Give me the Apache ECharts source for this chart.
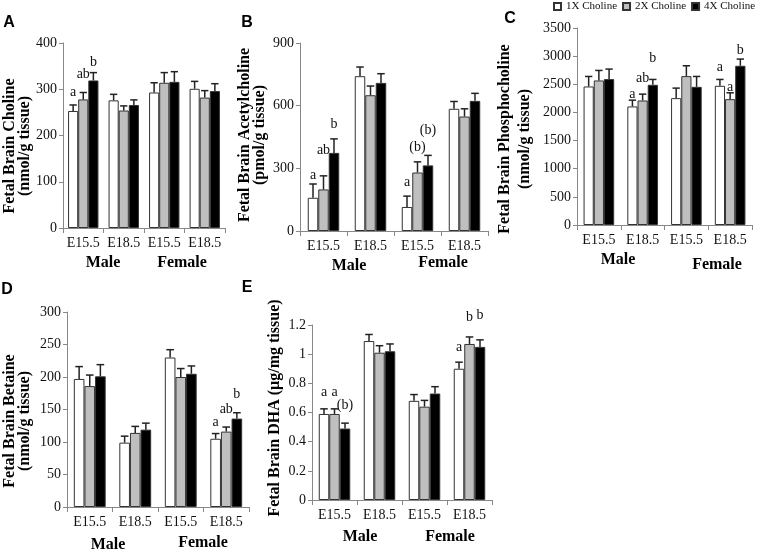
<!DOCTYPE html>
<html><head><meta charset="utf-8">
<script src="https://cdn.jsdelivr.net/npm/echarts@6/dist/echarts.min.js"></script>
<style>html,body{margin:0;padding:0;background:#fff}#c{width:757px;height:551px}</style>
</head><body><div id="c"></div>
<script>
// ---------- data ----------
const stages = ['E15.5', 'E18.5', 'E15.5', 'E18.5'];
const doseNames = ['1X Choline', '2X Choline', '4X Choline'];

// A: Fetal Brain Choline (nmol/g tissue)
const cholineMean1X = [253, 276, 293, 301];
const cholineMean2X = [278, 254, 314, 282];
const cholineMean4X = [319, 266, 316, 296];
const cholineSem1X = [13, 13, 21, 16];
const cholineSem2X = [15, 10, 22, 15];
const cholineSem4X = [17, 11, 22, 16];
const cholineLetters1X = ['a', '', '', ''];
const cholineLetters2X = ['ab', '', '', ''];
const cholineLetters4X = ['b', '', '', ''];
const cholineLetterAt1X = [294, null, null, null];
const cholineLetterAt2X = [332, null, null, null];
const cholineLetterAt4X = [359, null, null, null];

// B: Fetal Brain Acetylcholine (pmol/g tissue)
const achMean1X = [159, 741, 115, 585];
const achMean2X = [199, 650, 280, 548];
const achMean4X = [374, 709, 314, 623];
const achSem1X = [66, 44, 52, 35];
const achSem2X = [65, 44, 51, 37];
const achSem4X = [67, 44, 48, 36];
const achLetters1X = ['a', '', 'a', ''];
const achLetters2X = ['ab', '', '(b)', ''];
const achLetters4X = ['b', '', '(b)', ''];
const achLetterAt1X = [268, null, 231, null];
const achLetterAt2X = [384, null, 400, null];
const achLetterAt4X = [510, null, 483, null];

// C: Fetal Brain Phosphocholine (nmol/g tissue)
const pcMean1X = [2461, 2106, 2254, 2473];
const pcMean2X = [2568, 2212, 2645, 2236];
const pcMean4X = [2592, 2491, 2455, 2829];
const pcSem1X = [178, 112, 178, 113];
const pcSem2X = [178, 113, 184, 113];
const pcSem4X = [178, 95, 184, 119];
const pcLetters1X = ['', 'a', '', 'a'];
const pcLetters2X = ['', 'ab', '', 'a'];
const pcLetters4X = ['', 'b', '', 'b'];
const pcLetterAt1X = [null, 2330, null, 2810];
const pcLetterAt2X = [null, 2600, null, 2450];
const pcLetterAt4X = [null, 2970, null, 3110];

// D: Fetal Brain Betaine (nmol/g tissue)
const betMean1X = [197, 99, 230, 105];
const betMean2X = [186, 114, 200, 116];
const betMean4X = [201, 119, 205, 136];
const betSem1X = [19, 10, 12, 8];
const betSem2X = [17, 10, 13, 7];
const betSem4X = [18, 10, 12, 9];
const betLetters1X = ['', '', '', 'a'];
const betLetters2X = ['', '', '', 'ab'];
const betLetters4X = ['', '', '', 'b'];
const betLetterAt1X = [null, null, null, 131];
const betLetterAt2X = [null, null, null, 151];
const betLetterAt4X = [null, null, null, 174];

// E: Fetal Brain DHA (µg/mg tissue)
const dhaMean1X = [0.59, 1.09, 0.68, 0.90];
const dhaMean2X = [0.59, 1.01, 0.64, 1.07];
const dhaMean4X = [0.49, 1.02, 0.73, 1.05];
const dhaSem1X = [0.035, 0.045, 0.043, 0.045];
const dhaSem2X = [0.035, 0.048, 0.043, 0.048];
const dhaSem4X = [0.037, 0.050, 0.047, 0.048];
const dhaLetters1X = ['a', '', '', 'a'];
const dhaLetters2X = ['a', '', '', 'b'];
const dhaLetters4X = ['(b)', '', '', 'b'];
const dhaLetterAt1X = [0.74, null, null, 1.05];
const dhaLetterAt2X = [0.74, null, null, 1.255];
const dhaLetterAt4X = [0.65, null, null, 1.265];

// ---------- layout / style ----------
const SERIF = '"Liberation Serif", "Times New Roman", serif';
const SANS = '"Liberation Sans", Arial, sans-serif';
const barColors = ['#ffffff', '#bfbfbf', '#000000'];

const panels = [
  { letter: 'A', letterXY: [9, 23], grid: { left: 63, top: 43, width: 162, height: 185 }, min: 0, max: 400, interval: 100, gap: 0.25,
    means: [cholineMean1X, cholineMean2X, cholineMean4X], sems: [cholineSem1X, cholineSem2X, cholineSem4X],
    letters: [cholineLetters1X, cholineLetters2X, cholineLetters4X], letterAt: [cholineLetterAt1X, cholineLetterAt2X, cholineLetterAt4X],
    title: ['Fetal Brain Choline', '(nmol/g tissue)'], titleX: [10, 25], titleY: 146, male: [103, 263], female: [182, 263] },
  { letter: 'B', letterXY: [247, 23], grid: { left: 300, top: 43, width: 188, height: 188 }, min: 0, max: 900, interval: 300, gap: 0.33,
    means: [achMean1X, achMean2X, achMean4X], sems: [achSem1X, achSem2X, achSem4X],
    letters: [achLetters1X, achLetters2X, achLetters4X], letterAt: [achLetterAt1X, achLetterAt2X, achLetterAt4X],
    title: ['Fetal Brain Acetylcholine', '(pmol/g tissue)'], titleX: [245, 260], titleY: 135, male: [349, 266], female: [443, 263] },
  { letter: 'C', letterXY: [510, 19], grid: { left: 577, top: 28, width: 175, height: 197 }, min: 0, max: 3500, interval: 500, gap: 0.3,
    means: [pcMean1X, pcMean2X, pcMean4X], sems: [pcSem1X, pcSem2X, pcSem4X],
    letters: [pcLetters1X, pcLetters2X, pcLetters4X], letterAt: [pcLetterAt1X, pcLetterAt2X, pcLetterAt4X],
    title: ['Fetal Brain Phosphocholine', '(nmol/g tissue)'], titleX: [505, 525], titleY: 139, male: [618, 260], female: [717, 265] },
  { letter: 'D', letterXY: [7, 290], grid: { left: 67, top: 312, width: 182, height: 195 }, min: 0, max: 300, interval: 50, gap: 0.3,
    means: [betMean1X, betMean2X, betMean4X], sems: [betSem1X, betSem2X, betSem4X],
    letters: [betLetters1X, betLetters2X, betLetters4X], letterAt: [betLetterAt1X, betLetterAt2X, betLetterAt4X],
    title: ['Fetal Brain Betaine', '(nmol/g tissue)'], titleX: [10, 25], titleY: 421, male: [108, 545], female: [203, 543] },
  { letter: 'E', letterXY: [247, 288], grid: { left: 312, top: 325, width: 180, height: 175 }, min: 0, max: 1.2, interval: 0.2, gap: 0.3,
    means: [dhaMean1X, dhaMean2X, dhaMean4X], sems: [dhaSem1X, dhaSem2X, dhaSem4X],
    letters: [dhaLetters1X, dhaLetters2X, dhaLetters4X], letterAt: [dhaLetterAt1X, dhaLetterAt2X, dhaLetterAt4X],
    title: ['Fetal Brain DHA (\u00b5g/mg tissue)'], titleX: [275], titleY: 408, male: [360, 537], female: [450, 537] }
];

const grids = [], xAxes = [], yAxes = [], series = [], graphics = [];

panels.forEach((p, pi) => {
  grids.push(Object.assign({ containLabel: false }, p.grid));
  xAxes.push({
    type: 'category', gridIndex: pi, data: stages,
    axisLine: { lineStyle: { color: '#888', width: 1 } },
    axisTick: { show: true, length: 5, lineStyle: { color: '#888' } },
    axisLabel: { interval: 0, margin: 8, color: '#111', fontFamily: SERIF, fontSize: 14 }
  });
  yAxes.push({
    type: 'value', gridIndex: pi, min: p.min, max: p.max, interval: p.interval,
    splitLine: { show: false },
    axisLine: { show: true, lineStyle: { color: '#888', width: 1 } },
    axisTick: { show: true, length: 4, lineStyle: { color: '#888' } },
    axisLabel: { margin: 6, color: '#111', fontFamily: SERIF, fontSize: 14,
      formatter: v => String(Math.round(v * 1000) / 1000) }
  });
  for (let k = 0; k < 3; k++) {
    series.push({
      type: 'bar', name: doseNames[k], xAxisIndex: pi, yAxisIndex: pi,
      data: p.means[k], barGap: '0%', barCategoryGap: (p.gap * 100) + '%',
      itemStyle: { color: barColors[k], borderColor: '#333', borderWidth: 1 },
      emphasis: { disabled: true }, animation: false
    });
  }
  for (let k = 0; k < 3; k++) {
    const means = p.means[k], sems = p.sems[k], lets = p.letters[k], lat = p.letterAt[k];
    series.push({
      type: 'custom', xAxisIndex: pi, yAxisIndex: pi, z: 5, silent: true, animation: false, clip: false,
      data: means.map((m, i) => [i, m, sems[i]]),
      renderItem: (params, api) => {
        const i = api.value(0), m = api.value(1), s = api.value(2);
        const band = api.size([1, 0])[0];
        const bw = band * (1 - p.gap) / 3;
        const p0 = api.coord([i, m]);
        const p1 = api.coord([i, m + s]);
        const x = p0[0] + (k - 1) * bw;
        const cw = bw * 0.36;
        const children = [
          { type: 'line', shape: { x1: x, y1: p0[1], x2: x, y2: p1[1] }, style: { stroke: '#222', lineWidth: 1.5 } },
          { type: 'line', shape: { x1: x - cw, y1: p1[1], x2: x + cw, y2: p1[1] }, style: { stroke: '#222', lineWidth: 1.5 } }
        ];
        const lt = lets[params.dataIndex];
        if (lt) {
          const py = api.coord([i, lat[params.dataIndex]])[1];
          children.push({ type: 'text', x: x, y: py,
            style: { text: lt, font: '14px ' + SERIF, fill: '#111', align: 'center', verticalAlign: 'middle', textAlign: 'center', textVerticalAlign: 'middle' } });
        }
        return { type: 'group', children };
      }
    });
  }
  graphics.push({ type: 'text', x: p.letterXY[0], y: p.letterXY[1], silent: true,
    style: { text: p.letter, font: 'bold 16px ' + SANS, fill: '#000', align: 'center', verticalAlign: 'middle', textAlign: 'center', textVerticalAlign: 'middle' } });
  p.title.forEach((t, li) => {
    graphics.push({ type: 'text', x: p.titleX[li], y: p.titleY, rotation: Math.PI / 2, silent: true,
      style: { text: t, font: 'bold 16px ' + SERIF, fill: '#000', align: 'center', verticalAlign: 'middle', textAlign: 'center', textVerticalAlign: 'middle' } });
  });
  [['Male', p.male], ['Female', p.female]].forEach(([t, xy]) => {
    graphics.push({ type: 'text', x: xy[0], y: xy[1], silent: true,
      style: { text: t, font: 'bold 16px ' + SERIF, fill: '#000', align: 'center', verticalAlign: 'middle', textAlign: 'center', textVerticalAlign: 'middle' } });
  });
});

const chart = echarts.init(document.getElementById('c'), null, { renderer: 'canvas' });
chart.setOption({
  animation: false,
  backgroundColor: '#fff',
  legend: {
    data: doseNames, left: 553, top: 1, width: 230, padding: 0, orient: 'horizontal',
    icon: 'rect', itemWidth: 7, itemHeight: 7, itemGap: 5,
    textStyle: { fontFamily: SERIF, fontSize: 11, color: '#111' },
    selectedMode: false
  },
  grid: grids, xAxis: xAxes, yAxis: yAxes, series: series, graphic: graphics
});
</script>
</body></html>
